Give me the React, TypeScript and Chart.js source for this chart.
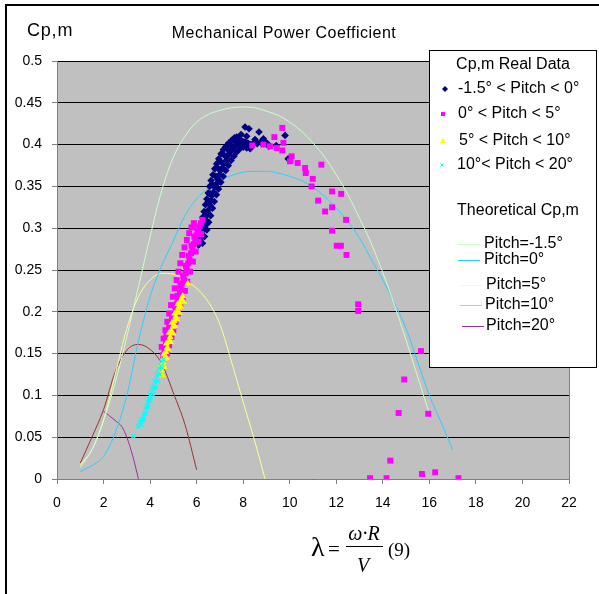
import React, { useEffect, useRef } from "react";
import { Chart, registerables } from "chart.js";

Chart.register(...registerables);

type Pt = [number, number];

const SANS = '"Liberation Sans", Arial, sans-serif';
const SERIF = '"Liberation Serif", "Times New Roman", serif';

// Axis ranges and tick spacing
const X_MIN = 0;
const X_MAX = 22;
const X_STEP = 2;
const Y_MIN = 0;
const Y_MAX = 0.5;
const Y_STEP = 0.05;

const chartTitle = "Mechanical Power Coefficient";
const yAxisTitle = "Cp,m";

// Measured Cp,m, -1.5° < pitch < 0°
const realPitchNeg: Pt[] = [
  [6.08, 0.28], [6.15, 0.286], [6.22, 0.291], [6.18, 0.296], [6.3, 0.298], [6.36, 0.303],
  [6.28, 0.307], [6.42, 0.309], [6.46, 0.316], [6.38, 0.319], [6.52, 0.322], [6.56, 0.328],
  [6.48, 0.331], [6.62, 0.333], [6.66, 0.339], [6.58, 0.341], [6.72, 0.343], [6.78, 0.349],
  [6.7, 0.352], [6.85, 0.353], [6.9, 0.359], [6.82, 0.362], [6.98, 0.364], [7.03, 0.369],
  [6.94, 0.371], [7.1, 0.372], [7.16, 0.377], [7.06, 0.379], [7.24, 0.38], [7.3, 0.385],
  [7.2, 0.387], [7.36, 0.388], [7.44, 0.391], [7.34, 0.394], [7.52, 0.394], [7.6, 0.397],
  [7.48, 0.399], [7.68, 0.399], [7.78, 0.401], [7.64, 0.404], [7.88, 0.402], [7.98, 0.404],
  [7.82, 0.407], [8.08, 0.403], [8.2, 0.402], [8.32, 0.4], [8.45, 0.402], [8.6, 0.401],
  [8.75, 0.403], [8.92, 0.404], [9.05, 0.401],
  [6.05, 0.29], [6.12, 0.298], [6.2, 0.305], [6.26, 0.313], [6.32, 0.32], [6.38, 0.328],
  [6.44, 0.335], [6.5, 0.342], [6.56, 0.35], [6.62, 0.357], [6.7, 0.364], [6.78, 0.371],
  [6.86, 0.377], [6.95, 0.383], [7.05, 0.389], [7.15, 0.394], [7.26, 0.398], [7.38, 0.402],
  [7.5, 0.405], [7.62, 0.408],
  [6.25, 0.282], [6.34, 0.29], [6.44, 0.298], [6.52, 0.307], [6.6, 0.315], [6.68, 0.324],
  [6.76, 0.332], [6.85, 0.34], [6.94, 0.347], [7.04, 0.355], [7.14, 0.362], [7.25, 0.369],
  [7.36, 0.375], [7.48, 0.381], [7.6, 0.386], [7.72, 0.391], [7.86, 0.395], [8.0, 0.397],
  [8.15, 0.396], [8.3, 0.395],
  [7.72, 0.409], [7.91, 0.412], [8.08, 0.421], [8.25, 0.419], [8.15, 0.41], [8.51, 0.406],
  [8.68, 0.415], [8.87, 0.407], [9.1, 0.398], [9.42, 0.399], [9.8, 0.411], [9.93, 0.383],
];

// Measured Cp,m, 0° < pitch < 5°
const realPitch0to5: Pt[] = [
  [4.55, 0.148], [4.62, 0.152], [4.6, 0.158], [4.68, 0.161], [4.74, 0.166], [4.7, 0.171],
  [4.8, 0.174], [4.86, 0.178], [4.82, 0.183], [4.92, 0.186], [4.98, 0.19], [4.94, 0.195],
  [5.04, 0.198], [5.1, 0.202], [5.06, 0.207], [5.16, 0.21], [5.22, 0.214], [5.18, 0.219],
  [5.28, 0.222], [5.34, 0.226], [5.3, 0.231], [5.4, 0.234], [5.46, 0.238], [5.42, 0.243],
  [5.52, 0.246], [5.58, 0.25], [5.54, 0.255], [5.64, 0.258], [5.7, 0.262], [5.66, 0.267],
  [5.76, 0.27], [5.82, 0.274], [5.78, 0.279], [5.88, 0.281], [5.94, 0.285], [5.9, 0.29],
  [6.0, 0.292], [6.06, 0.296], [6.02, 0.3], [6.12, 0.302], [6.18, 0.306], [6.25, 0.31],
  [4.5, 0.158], [4.58, 0.168], [4.66, 0.178], [4.74, 0.188], [4.82, 0.198], [4.9, 0.208],
  [4.98, 0.218], [5.06, 0.228], [5.14, 0.238], [5.22, 0.248], [5.3, 0.258], [5.38, 0.268],
  [5.48, 0.277], [5.58, 0.286], [5.68, 0.294], [5.78, 0.301], [5.88, 0.306],
  [4.72, 0.15], [4.82, 0.16], [4.92, 0.17], [5.0, 0.178], [5.1, 0.188], [5.2, 0.198],
  [5.3, 0.207], [5.4, 0.216], [5.5, 0.225], [5.6, 0.236], [5.72, 0.248], [5.84, 0.26],
  [5.96, 0.272], [6.08, 0.284], [6.2, 0.293],
  [8.39, 0.399], [8.87, 0.4], [9.15, 0.398], [9.34, 0.409], [9.44, 0.396], [9.68, 0.42],
  [9.73, 0.402], [9.68, 0.393], [10.08, 0.386], [10.01, 0.38], [10.34, 0.378], [10.66, 0.372],
  [10.69, 0.366], [11.36, 0.376], [10.99, 0.359], [10.94, 0.35], [11.82, 0.344], [12.21, 0.341],
  [11.22, 0.333], [11.82, 0.325], [11.52, 0.32], [12.42, 0.31], [11.82, 0.297], [12.02, 0.279],
  [12.2, 0.279], [12.44, 0.268], [12.94, 0.209], [12.94, 0.201], [15.64, 0.153], [14.92, 0.119],
  [14.68, 0.079], [15.95, 0.078], [14.32, 0.022], [13.45, 0.001], [14.16, 0.001], [15.68, 0.006],
  [16.25, 0.008], [17.25, 0.001],
];

// Measured Cp,m, 5° < pitch < 10°
const realPitch5to10: Pt[] = [
  [4.42, 0.124], [4.5, 0.13], [4.47, 0.136], [4.56, 0.139], [4.62, 0.144], [4.58, 0.149],
  [4.68, 0.152], [4.74, 0.157], [4.7, 0.162], [4.8, 0.165], [4.86, 0.17], [4.82, 0.175],
  [4.92, 0.177], [4.98, 0.182], [4.94, 0.187], [5.04, 0.189], [5.1, 0.194], [5.06, 0.198],
  [5.16, 0.2], [5.22, 0.205], [5.18, 0.209], [5.28, 0.211], [5.34, 0.215], [5.4, 0.219],
  [4.52, 0.124], [4.6, 0.134], [4.7, 0.145], [4.78, 0.155], [4.88, 0.164], [4.98, 0.174],
  [5.06, 0.183], [5.14, 0.191], [5.24, 0.199], [5.32, 0.206], [5.44, 0.212],
  [5.62, 0.234],
];

// Measured Cp,m, 10° < pitch < 20°
const realPitch10to20: Pt[] = [
  [3.28, 0.051], [3.49, 0.063], [3.58, 0.068], [3.64, 0.071], [3.7, 0.076], [3.76, 0.079],
  [3.8, 0.084], [3.86, 0.087], [3.9, 0.092], [3.96, 0.095], [4.0, 0.1], [4.06, 0.103],
  [4.1, 0.108], [4.16, 0.111], [4.2, 0.116], [4.26, 0.119], [4.3, 0.124], [4.36, 0.127],
  [4.4, 0.132], [4.46, 0.135], [4.5, 0.14], [4.56, 0.143],
  [3.62, 0.065], [3.72, 0.071], [3.82, 0.078], [3.92, 0.086], [4.02, 0.094], [4.12, 0.101],
  [4.22, 0.109], [4.32, 0.117], [4.42, 0.125], [4.52, 0.133],
];

// Theoretical Cp,m curves
const theoPitchM15: Pt[] = [
  [1, 0.014], [1.5, 0.035], [2, 0.07], [2.5, 0.115], [3, 0.17], [3.5, 0.23], [4, 0.29],
  [4.5, 0.345], [5, 0.385], [5.5, 0.41], [6, 0.427], [6.5, 0.436], [7, 0.441], [7.5, 0.444],
  [8, 0.445], [8.5, 0.444], [9, 0.44], [9.5, 0.435], [10, 0.427], [10.5, 0.416], [11, 0.402],
  [11.5, 0.385], [12, 0.364], [12.5, 0.34], [13, 0.312], [13.5, 0.282], [14, 0.247],
  [14.5, 0.208], [15, 0.166], [15.5, 0.122], [16, 0.078],
];
const theoPitch0: Pt[] = [
  [1, 0.009], [1.5, 0.016], [2, 0.027], [2.5, 0.055], [3, 0.1], [3.5, 0.165], [4, 0.218],
  [4.5, 0.255], [5, 0.285], [5.5, 0.315], [6, 0.335], [6.5, 0.348], [7, 0.357], [7.5, 0.363],
  [8, 0.367], [8.5, 0.368], [9, 0.368], [9.5, 0.366], [10, 0.362], [10.5, 0.357], [11, 0.349],
  [11.5, 0.338], [12, 0.324], [12.5, 0.308], [13, 0.288], [13.5, 0.263], [14, 0.238],
  [14.5, 0.21], [15, 0.18], [15.5, 0.14], [16, 0.1], [16.5, 0.068], [17, 0.035],
];
const theoPitch5: Pt[] = [
  [1, 0.017], [1.5, 0.035], [2, 0.07], [2.5, 0.125], [3, 0.18], [3.5, 0.218], [4, 0.238],
  [4.5, 0.246], [5, 0.245], [5.5, 0.238], [6, 0.228], [6.5, 0.212], [7, 0.185], [7.5, 0.14],
  [8, 0.092], [8.5, 0.045], [8.94, 0],
];
const theoPitch10: Pt[] = [
  [1, 0.019], [1.5, 0.05], [2, 0.083], [2.5, 0.128], [3, 0.154], [3.5, 0.161], [4, 0.155],
  [4.5, 0.138], [5, 0.103], [5.5, 0.065], [6, 0.011],
];
const theoPitch20: Pt[] = [
  [2, 0.081], [2.5, 0.07], [2.8, 0.062], [3, 0.05], [3.25, 0.028], [3.5, 0],
];

const realLabels = ["-1.5° < Pitch < 0°", "0° < Pitch < 5°", "5° < Pitch < 10°", "10°< Pitch < 20°"];
const theoLabels = ["Pitch=-1.5°", "Pitch=0°", "Pitch=5°", "Pitch=10°", "Pitch=20°"];
const theoColors = ["#ccffcc", "#33ccff", "#ffff99", "#99ccff", "#993399"];

const toXY = (pts: Pt[]) => pts.map(([x, y]) => ({ x, y }));

const lineSet = (label: string, pts: Pt[], color: string) => ({
  label,
  data: toXY(pts),
  showLine: true,
  borderColor: color,
  backgroundColor: color,
  borderWidth: 1,
  pointRadius: 0,
  cubicInterpolationMode: "monotone" as const,
  fill: false,
});

const decorations = {
  id: "decorations",
  beforeDraw(chart: any) {
    const { ctx, chartArea: a, width, height } = chart;
    ctx.save();
    ctx.fillStyle = "#ffffff";
    ctx.fillRect(0, 0, width, height);
    ctx.fillStyle = "#000000";
    ctx.fillRect(5, 4, width - 5, 2);
    ctx.fillRect(5, 4, 2, height - 4);
    ctx.fillStyle = "#c0c0c0";
    ctx.fillRect(a.left, a.top, a.right - a.left, a.bottom - a.top);
    ctx.restore();
  },
  beforeDatasetsDraw(chart: any) {
    const { ctx, chartArea: a } = chart;
    ctx.save();
    ctx.strokeStyle = "#808080";
    ctx.lineWidth = 1;
    ctx.beginPath();
    ctx.moveTo(a.right + 0.5, a.top);
    ctx.lineTo(a.right + 0.5, a.bottom);
    ctx.stroke();
    ctx.restore();
  },
  afterDraw(chart: any) {
    const { ctx } = chart;
    ctx.save();
    ctx.fillStyle = "#000";
    ctx.textBaseline = "middle";

    // Titles
    ctx.font = `16px ${SANS}`;
    (ctx as any).letterSpacing = "0.5px";
    ctx.textAlign = "center";
    ctx.fillText(chartTitle, 284, 34);
    ctx.font = `18px ${SANS}`;
    (ctx as any).letterSpacing = "0.8px";
    ctx.textAlign = "left";
    ctx.fillText(yAxisTitle, 27, 31);
    (ctx as any).letterSpacing = "0px";

    // Legend box
    ctx.fillStyle = "#ffffff";
    ctx.fillRect(429, 50, 168, 318);
    ctx.strokeStyle = "#000";
    ctx.lineWidth = 1;
    ctx.strokeRect(429.5, 50.5, 167, 317);

    ctx.fillStyle = "#000";
    ctx.font = `16px ${SANS}`;
    ctx.textAlign = "center";
    ctx.fillText("Cp,m Real Data", 513, 65);
    ctx.fillText("Theoretical Cp,m", 518, 211);

    ctx.textAlign = "left";
    const rowY = [89, 114, 141, 165];
    const textX = [458, 458, 459, 457];
    realLabels.forEach((t, i) => ctx.fillText(t, textX[i], rowY[i]));

    // markers
    ctx.fillStyle = "#000080";
    ctx.beginPath();
    ctx.moveTo(445, 86);
    ctx.lineTo(448, 89);
    ctx.lineTo(445, 92);
    ctx.lineTo(442, 89);
    ctx.closePath();
    ctx.fill();
    ctx.fillStyle = "#ff00ff";
    ctx.fillRect(441, 112, 4, 4);
    ctx.fillStyle = "#ffff00";
    ctx.beginPath();
    ctx.moveTo(443, 138);
    ctx.lineTo(446, 143);
    ctx.lineTo(440, 143);
    ctx.closePath();
    ctx.fill();
    ctx.strokeStyle = "#00ffff";
    ctx.beginPath();
    ctx.moveTo(440.5, 163.5);
    ctx.lineTo(443.5, 166.5);
    ctx.moveTo(443.5, 163.5);
    ctx.lineTo(440.5, 166.5);
    ctx.stroke();

    const lineRows = [244, 260, 285, 305, 326];
    const lineX0 = [458, 458, 460, 460, 462];
    const labelX = [484, 484, 486, 485, 486];
    theoLabels.forEach((t, i) => {
      ctx.strokeStyle = theoColors[i];
      ctx.lineWidth = 1;
      ctx.beginPath();
      ctx.moveTo(lineX0[i], lineRows[i] + 0.5);
      ctx.lineTo(lineX0[i] + 22, lineRows[i] + 0.5);
      ctx.stroke();
      ctx.fillStyle = "#000";
      ctx.fillText(t, labelX[i], lineRows[i]);
    });

    // Tip-speed ratio formula under the x axis
    ctx.textBaseline = "alphabetic";
    ctx.textAlign = "left";
    ctx.font = `28px ${SERIF}`;
    ctx.fillText("λ", 311, 556);
    ctx.font = `21px ${SERIF}`;
    ctx.fillText("=", 328, 556);
    ctx.font = `italic 20px ${SERIF}`;
    ctx.textAlign = "center";
    ctx.fillText("ω·R", 364, 540);
    ctx.fillText("V", 363, 572);
    ctx.strokeStyle = "#000";
    ctx.beginPath();
    ctx.moveTo(346, 546.5);
    ctx.lineTo(383, 546.5);
    ctx.stroke();
    ctx.font = `19px ${SERIF}`;
    ctx.textAlign = "left";
    ctx.fillText("(9)", 388, 556);
    ctx.restore();
  },
};

export default function App() {
  const canvasRef = useRef<HTMLCanvasElement | null>(null);

  useEffect(() => {
    const canvas = canvasRef.current;
    if (!canvas) return;

    const chart = new Chart(canvas, {
      type: "scatter",
      data: {
        datasets: [
          {
            label: realLabels[3],
            data: toXY(realPitch10to20),
            pointStyle: "crossRot",
            pointRadius: 3,
            borderColor: "#00ffff",
            backgroundColor: "#00ffff",
            borderWidth: 1.2,
          },
          {
            label: realLabels[2],
            data: toXY(realPitch5to10),
            pointStyle: "triangle",
            pointRadius: 4,
            backgroundColor: "#ffff00",
            borderWidth: 0,
          },
          {
            label: realLabels[1],
            data: toXY(realPitch0to5),
            pointStyle: "rect",
            pointRadius: 4.2,
            backgroundColor: "#ff00ff",
            borderWidth: 0,
          },
          {
            label: realLabels[0],
            data: toXY(realPitchNeg),
            pointStyle: "rectRot",
            pointRadius: 3.8,
            backgroundColor: "#000080",
            borderWidth: 0,
          },
          lineSet(theoLabels[0], theoPitchM15, theoColors[0]),
          lineSet(theoLabels[1], theoPitch0, theoColors[1]),
          lineSet(theoLabels[2], theoPitch5, theoColors[2]),
          lineSet(theoLabels[3], theoPitch10, "#993333"),
          lineSet(theoLabels[4], theoPitch20, theoColors[4]),
        ] as any,
      },
      options: {
        animation: false,
        responsive: false,
        devicePixelRatio: 1,
        events: [],
        layout: { padding: { left: 0, top: 61, right: 30, bottom: 0 } },
        plugins: {
          legend: { display: false },
          title: { display: false },
          tooltip: { enabled: false },
        },
        scales: {
          x: {
            type: "linear",
            min: X_MIN,
            max: X_MAX,
            afterFit: (s: any) => {
              s.height = 115;
            },
            ticks: {
              stepSize: X_STEP,
              color: "#000",
              font: { family: SANS, size: 14 },
              padding: 11,
              maxRotation: 0,
            },
            grid: {
              drawOnChartArea: false,
              drawTicks: true,
              tickLength: 5,
              tickColor: "#808080",
            },
            border: { color: "#808080", width: 1 },
          },
          y: {
            type: "linear",
            min: Y_MIN,
            max: Y_MAX,
            afterFit: (s: any) => {
              s.width = 57;
            },
            ticks: {
              stepSize: Y_STEP,
              color: "#000",
              font: { family: SANS, size: 14 },
              padding: 10,
              callback: (v: any) => String(Number(Number(v).toFixed(2))),
            },
            grid: {
              color: "#000000",
              lineWidth: 1,
              drawTicks: true,
              tickLength: 5,
              tickColor: "#808080",
            },
            border: { color: "#808080", width: 1 },
          },
        },
      },
      plugins: [decorations],
    });

    return () => chart.destroy();
  }, []);

  return (
    <div style={{ position: "fixed", left: 0, top: 0, width: 599, height: 594, background: "#fff" }}>
      <canvas ref={canvasRef} width={599} height={594} style={{ display: "block" }} />
    </div>
  );
}
